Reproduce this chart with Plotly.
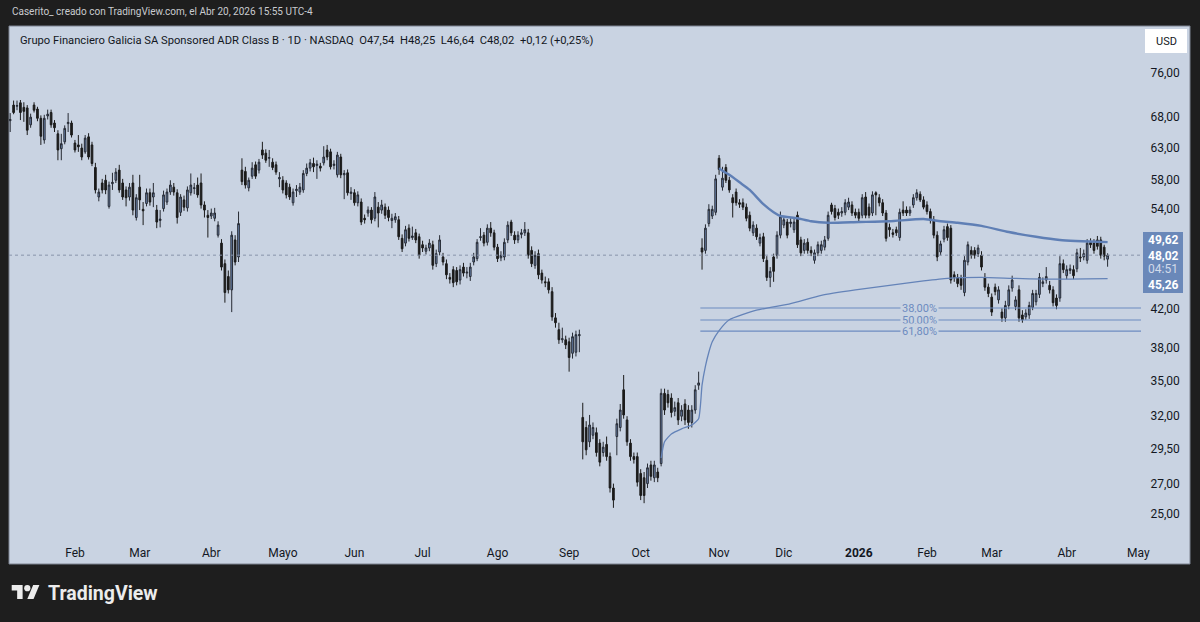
import numpy as np
import pandas as pd
import plotly.graph_objects as go

# ---------------- data ----------------
opens = [
    67.4, 70.1, 69.9, 70.5, 69.7, 69.6, 66.7, 70.1, 69.4, 67.8,
    64.2, 68.2, 68.8, 67.0, 65.2, 62.8, 63.9, 66.9, 67.0, 63.7,
    63.4, 62.9, 62.3, 64.7, 63.4, 59.9, 55.6, 57.6, 58.0, 54.3,
    57.5, 58.0, 59.5, 57.6, 56.6, 55.6, 57.6, 52.8, 57.0, 53.9,
    54.7, 56.2, 55.6, 53.8, 52.4, 54.0, 54.9, 56.3, 57.0, 56.2,
    53.5, 55.2, 54.1, 56.2, 56.8, 57.3, 57.6, 54.5, 53.1, 53.0,
    52.7, 50.5, 49.5, 47.0, 45.5, 44.0, 49.9, 47.8, 59.5, 59.3,
    56.9, 58.6, 60.3, 59.5, 62.6, 62.1, 61.3, 60.7, 60.3, 58.2,
    58.0, 57.6, 57.0, 54.8, 56.5, 56.3, 56.6, 59.0, 59.8, 60.5,
    60.2, 60.1, 60.6, 62.6, 62.3, 60.2, 58.8, 61.5, 58.8, 59.1,
    56.1, 56.2, 54.8, 54.9, 52.7, 53.4, 53.8, 52.7, 54.2, 53.8,
    54.2, 53.8, 52.4, 52.5, 52.5, 50.1, 49.5, 51.4, 50.2, 50.8,
    50.3, 49.3, 48.5, 48.9, 49.3, 47.0, 48.4, 47.8, 47.0, 45.4,
    46.3, 46.2, 45.1, 46.6, 45.9, 45.5, 47.2, 47.6, 50.2, 50.5,
    49.6, 51.4, 50.8, 49.0, 47.7, 47.8, 49.9, 52.2, 50.5, 49.9,
    50.6, 50.8, 50.8, 48.6, 46.8, 48.2, 45.9, 44.9, 44.9, 43.8,
    41.0, 39.8, 38.8, 38.8, 38.6, 37.5, 37.6, 39.2, 31.9, 31.1,
    30.0, 30.5, 30.7, 29.9, 29.2, 29.8, 28.9, 26.7, 30.4, 31.1,
    34.2, 31.7, 29.9, 28.9, 28.9, 27.7, 27.4, 27.0, 28.3, 27.4,
    27.8, 28.4, 33.9, 33.8, 33.5, 32.4, 33.1, 32.0, 33.0, 32.5,
    31.5, 32.5, 34.6, 48.9, 48.6, 52.0, 53.0, 53.5, 61.3, 57.0,
    59.9, 58.0, 55.5, 56.3, 54.8, 54.8, 54.2, 53.1, 50.8, 51.4,
    49.5, 50.3, 47.4, 45.4, 47.8, 48.0, 50.5, 51.8, 52.2, 52.0,
    51.2, 53.1, 49.9, 48.6, 49.6, 48.6, 47.4, 48.3, 48.6, 49.0,
    50.1, 54.5, 54.0, 53.5, 53.4, 53.5, 54.2, 54.5, 53.5, 53.5,
    53.1, 55.6, 54.2, 53.4, 56.2, 55.5, 54.8, 53.4, 51.5, 50.8,
    51.2, 50.2, 53.8, 53.8, 53.4, 54.5, 55.5, 56.0, 55.2, 54.5,
    53.6, 52.5, 50.5, 48.4, 50.0, 51.6, 51.4, 45.7, 45.4, 45.3,
    43.7, 47.2, 48.6, 48.6, 48.2, 48.0, 45.4, 44.3, 43.2, 44.3,
    42.9, 41.6, 41.0, 42.3, 44.2, 42.2, 44.0, 41.3, 41.1, 41.3,
    42.1, 42.7, 43.5, 44.7, 45.1, 44.5, 44.0, 43.1, 43.1, 47.0,
    45.6, 46.2, 46.3, 46.4, 47.8, 47.8, 47.4, 49.6, 49.5, 49.9,
    49.9, 49.0, 47.54,
]
highs = [
    68.7, 70.9, 70.9, 71.0, 70.6, 70.1, 68.6, 70.6, 69.8, 68.3,
    68.4, 69.3, 69.3, 67.5, 65.8, 65.2, 66.6, 68.7, 67.4, 64.2,
    65.0, 63.6, 65.0, 65.3, 63.9, 60.6, 56.8, 58.2, 58.8, 57.8,
    59.1, 59.8, 60.3, 58.2, 57.1, 57.6, 58.8, 56.0, 58.8, 54.9,
    56.8, 56.8, 57.6, 54.5, 53.8, 56.5, 56.8, 58.0, 57.6, 56.7,
    56.0, 55.8, 57.1, 59.0, 57.6, 58.4, 59.0, 55.0, 53.8, 54.0,
    54.1, 52.3, 50.0, 47.5, 46.2, 51.0, 50.5, 53.6, 61.3, 60.0,
    58.4, 60.7, 60.8, 61.2, 63.9, 62.7, 62.6, 61.3, 60.8, 59.2,
    58.6, 58.0, 57.5, 56.8, 57.3, 57.6, 59.5, 60.5, 61.2, 61.4,
    61.0, 60.6, 63.2, 63.4, 62.8, 61.0, 62.3, 62.0, 59.5, 59.6,
    57.0, 56.7, 56.4, 55.4, 53.2, 54.3, 54.2, 56.3, 54.9, 55.2,
    54.7, 54.3, 53.3, 53.4, 53.0, 50.6, 51.7, 51.9, 51.6, 51.3,
    50.7, 49.8, 49.3, 50.0, 49.8, 48.7, 50.5, 48.3, 47.5, 45.9,
    46.7, 46.6, 46.8, 47.1, 46.6, 47.1, 48.3, 50.0, 51.4, 50.9,
    51.9, 52.2, 51.2, 49.4, 48.5, 50.1, 52.3, 52.5, 51.0, 51.0,
    51.3, 52.2, 51.3, 49.1, 48.5, 48.7, 46.3, 45.5, 45.3, 44.3,
    41.5, 40.5, 40.0, 39.2, 39.0, 39.5, 39.7, 39.8, 33.1, 31.6,
    32.1, 31.5, 31.1, 30.2, 30.0, 30.4, 29.2, 27.0, 31.8, 33.0,
    35.5, 32.0, 30.2, 29.2, 29.2, 28.0, 27.8, 28.4, 28.6, 28.6,
    28.1, 34.3, 34.3, 34.2, 33.9, 33.2, 33.5, 32.9, 33.4, 32.9,
    32.9, 34.6, 35.8, 50.1, 51.9, 54.6, 54.4, 58.8, 61.8, 60.0,
    60.4, 58.5, 56.0, 56.8, 55.3, 55.4, 54.7, 53.6, 52.3, 51.9,
    50.7, 50.8, 47.9, 46.6, 48.2, 51.0, 53.6, 53.0, 52.6, 52.7,
    52.7, 53.6, 50.3, 50.0, 50.1, 49.1, 48.7, 49.7, 49.8, 50.4,
    53.6, 54.8, 54.5, 54.0, 54.2, 55.3, 55.5, 55.0, 54.0, 54.0,
    56.0, 56.3, 54.7, 56.4, 56.4, 56.0, 55.3, 53.8, 52.0, 51.3,
    51.6, 54.0, 55.0, 54.3, 54.3, 56.0, 56.7, 56.4, 55.7, 55.0,
    54.0, 53.0, 51.0, 49.8, 51.7, 52.0, 51.8, 46.1, 45.8, 45.7,
    47.9, 49.7, 49.1, 49.0, 49.3, 48.5, 45.9, 44.7, 43.6, 44.7,
    44.4, 42.0, 42.8, 44.5, 45.6, 43.3, 44.5, 41.8, 41.9, 42.7,
    44.0, 44.0, 45.9, 45.4, 46.6, 45.0, 44.4, 43.5, 47.9, 47.5,
    46.8, 46.9, 46.8, 48.8, 48.9, 48.7, 50.0, 50.1, 50.0, 50.4,
    50.3, 49.3, 48.25,
]
lows = [
    65.5, 68.5, 69.2, 67.5, 67.2, 65.0, 66.2, 68.8, 67.3, 63.4,
    63.6, 67.6, 66.2, 65.5, 61.0, 61.0, 63.5, 65.5, 64.6, 62.2,
    62.3, 61.0, 62.0, 61.1, 60.1, 56.1, 55.0, 56.1, 56.0, 54.0,
    56.6, 57.6, 56.2, 55.2, 54.3, 55.1, 53.1, 52.4, 53.8, 51.8,
    54.3, 54.4, 54.2, 51.4, 51.5, 53.6, 54.5, 55.9, 55.8, 52.0,
    53.0, 53.7, 53.6, 55.8, 56.0, 55.5, 54.0, 52.8, 50.2, 52.6,
    52.3, 50.2, 46.2, 42.6, 43.6, 41.6, 46.8, 47.2, 57.3, 56.8,
    56.4, 58.2, 58.2, 59.0, 61.2, 60.6, 60.0, 59.5, 58.8, 57.0,
    56.1, 55.4, 55.2, 54.4, 55.6, 55.9, 56.2, 58.6, 59.3, 59.2,
    58.2, 59.3, 60.2, 61.0, 59.6, 59.6, 58.4, 58.3, 55.3, 55.8,
    55.2, 54.4, 54.3, 51.8, 52.0, 52.9, 52.0, 52.3, 51.5, 53.3,
    52.6, 52.3, 51.4, 52.1, 49.9, 48.4, 49.1, 49.7, 49.9, 49.5,
    47.6, 48.4, 48.1, 48.5, 46.3, 46.6, 48.0, 46.8, 45.2, 44.7,
    44.3, 44.5, 44.6, 45.5, 45.3, 45.0, 46.8, 47.3, 49.8, 49.1,
    49.2, 50.3, 48.6, 47.2, 47.3, 47.4, 49.5, 50.4, 49.4, 49.5,
    50.1, 50.4, 47.6, 46.6, 46.4, 45.2, 44.7, 44.3, 43.6, 40.7,
    40.0, 38.4, 38.5, 37.9, 35.8, 37.0, 37.2, 37.6, 28.7, 29.0,
    29.6, 30.2, 28.9, 28.2, 28.9, 28.6, 26.4, 25.4, 29.0, 30.8,
    31.8, 29.7, 28.6, 28.4, 26.8, 25.9, 25.7, 26.7, 27.2, 27.1,
    27.1, 28.2, 32.1, 32.7, 31.9, 32.0, 31.3, 31.6, 31.3, 31.0,
    31.1, 32.2, 34.2, 46.3, 48.2, 51.6, 52.6, 53.1, 58.8, 56.5,
    57.6, 56.2, 52.8, 54.4, 54.1, 53.8, 52.3, 51.0, 50.4, 49.9,
    49.1, 47.2, 45.0, 44.3, 44.9, 47.6, 50.1, 51.4, 50.1, 51.5,
    50.8, 48.9, 47.9, 48.2, 48.2, 47.9, 47.0, 47.9, 48.2, 48.6,
    49.8, 53.2, 52.4, 52.6, 52.9, 53.1, 53.8, 53.0, 52.7, 52.3,
    52.7, 52.7, 52.7, 53.0, 53.1, 54.3, 53.0, 49.7, 50.3, 50.2,
    50.4, 49.8, 53.0, 53.0, 53.0, 54.1, 55.1, 54.9, 53.9, 53.2,
    52.0, 50.1, 47.3, 48.0, 49.6, 49.8, 44.7, 44.9, 44.3, 44.0,
    43.3, 46.8, 47.6, 47.6, 47.8, 46.2, 43.9, 43.2, 41.2, 43.4,
    42.5, 40.6, 40.6, 41.9, 43.8, 41.8, 40.6, 40.5, 40.8, 40.9,
    41.8, 42.3, 43.1, 44.3, 44.7, 43.6, 42.2, 41.9, 42.7, 45.9,
    45.2, 45.8, 45.2, 46.0, 47.2, 47.4, 47.0, 48.9, 48.2, 48.7,
    47.6, 47.4, 46.64,
]
closes = [
    67.6, 68.8, 70.0, 68.8, 69.0, 65.8, 68.0, 69.2, 67.8, 64.8,
    67.8, 68.5, 66.7, 66.2, 62.6, 63.6, 66.1, 67.1, 65.0, 62.6,
    63.1, 61.5, 64.5, 61.5, 60.5, 56.6, 56.3, 56.6, 56.6, 57.3,
    57.7, 59.2, 56.6, 55.6, 55.5, 57.0, 53.8, 55.5, 55.2, 53.7,
    56.2, 54.9, 56.2, 52.2, 52.6, 55.9, 56.3, 57.3, 56.3, 52.8,
    55.6, 54.2, 56.6, 57.3, 56.9, 55.9, 54.5, 53.8, 52.8, 53.4,
    53.4, 51.8, 46.6, 43.7, 44.0, 50.5, 47.2, 52.0, 57.8, 57.3,
    58.0, 59.8, 58.6, 60.7, 61.8, 61.0, 61.4, 59.9, 59.2, 58.4,
    56.6, 55.9, 55.6, 56.3, 56.7, 57.0, 59.0, 59.8, 60.6, 60.0,
    60.4, 59.8, 61.5, 61.5, 60.0, 60.4, 61.8, 58.8, 59.0, 56.2,
    56.3, 54.8, 55.9, 52.2, 52.5, 53.8, 52.5, 55.6, 53.4, 54.5,
    53.1, 52.8, 52.7, 52.9, 50.3, 48.8, 51.2, 50.1, 50.4, 49.9,
    48.0, 48.9, 48.9, 49.5, 46.8, 48.2, 49.9, 47.2, 45.7, 45.2,
    44.8, 44.9, 46.3, 45.9, 46.0, 46.6, 47.8, 49.6, 50.3, 49.5,
    51.4, 50.8, 49.0, 47.6, 48.0, 49.6, 51.8, 50.8, 49.9, 50.5,
    50.8, 51.2, 48.0, 47.0, 48.0, 45.7, 45.1, 44.8, 44.0, 41.1,
    40.5, 38.8, 38.9, 38.3, 37.1, 39.1, 39.3, 39.3, 30.0, 29.4,
    31.3, 31.1, 29.2, 28.5, 29.6, 28.9, 26.7, 25.9, 31.4, 32.5,
    32.1, 30.0, 28.9, 28.7, 27.1, 26.2, 26.2, 28.1, 27.5, 28.3,
    27.4, 33.9, 32.5, 33.1, 32.3, 32.7, 31.7, 32.5, 31.7, 31.5,
    32.5, 34.2, 34.8, 48.4, 51.4, 53.9, 53.9, 58.2, 59.6, 58.3,
    58.0, 56.6, 54.8, 54.8, 54.6, 54.2, 52.7, 51.4, 51.8, 50.3,
    50.2, 47.6, 45.4, 46.1, 46.1, 50.5, 52.9, 52.5, 50.5, 52.2,
    52.2, 49.3, 48.3, 49.5, 48.6, 48.3, 48.3, 49.3, 49.3, 49.9,
    53.1, 53.6, 52.8, 53.1, 53.6, 54.8, 54.9, 53.4, 53.1, 52.7,
    55.5, 53.1, 53.1, 55.9, 55.9, 54.8, 53.4, 50.1, 51.2, 50.6,
    50.8, 53.5, 53.4, 53.4, 53.8, 55.5, 56.2, 55.2, 54.2, 53.6,
    52.4, 50.5, 47.8, 49.4, 51.2, 50.2, 45.1, 45.4, 44.7, 44.5,
    47.4, 49.3, 48.0, 48.0, 48.9, 46.6, 44.3, 43.6, 41.6, 43.8,
    44.0, 41.0, 42.3, 44.0, 45.1, 42.9, 41.0, 40.8, 41.5, 42.3,
    43.6, 43.6, 45.4, 44.9, 45.5, 44.0, 42.6, 42.3, 47.0, 46.3,
    46.3, 46.4, 45.6, 48.3, 47.7, 48.2, 49.5, 49.3, 48.6, 49.1,
    48.0, 47.9, 48.02,
]
assert len(opens) == len(highs) == len(lows) == len(closes) == 323

# anchored VWAP lines (day index, value)
upper_idx = [208, 209, 211, 214, 217, 221, 224, 226, 231, 235, 240, 249,
             258, 268, 273, 278, 285, 293, 301, 308, 322]
upper_val = [59.8, 59.4, 58.8, 57.7, 56.6, 54.6, 53.5, 53.0, 52.7, 52.3, 52.1, 52.2,
             52.3, 52.6, 52.3, 52.1, 51.7, 50.9, 50.3, 49.9, 49.62]
lower_idx = [191, 192, 194, 197, 200, 202, 203, 204, 205, 206, 208, 211,
             219, 229, 238, 248, 258, 268, 275, 285, 294, 304, 322]
lower_val = [28.8, 30.0, 30.6, 31.0, 31.3, 31.8, 34.6, 36.3, 37.6, 38.6, 39.7, 40.8,
             41.8, 42.5, 43.4, 44.0, 44.5, 45.0, 45.3, 45.4, 45.3, 45.2, 45.26]

fib_levels = [42.03, 40.78, 39.66]
fib_labels = ["38,00%", "50,00%", "61,80%"]

month_labels = ["Feb", "Mar", "Abr", "Mayo", "Jun", "Jul", "Ago", "Sep", "Oct",
                "Nov", "Dic", "<b>2026</b>", "Feb", "Mar", "Abr", "May"]
price_ticks = [25, 27, 29.5, 32, 35, 38, 42, 54, 58, 63, 68, 76]

holidays = ["2025-01-09", "2025-01-20", "2025-02-17", "2025-04-18", "2025-05-26",
            "2025-06-19", "2025-07-04", "2025-09-01", "2025-11-27", "2025-12-25",
            "2026-01-01", "2026-01-19", "2026-02-16", "2026-04-03"]

# ---------------- layout constants ----------------
W, H = 1200, 622
PL, PR, PT, PB = 9, 1141, 26, 537
BG = "#1e1e1e"
PANEL = "#c9d3e2"
TXT = "#131722"
BLUE = "#6a88b9"


def fx(p):
    return (p - PL) / (PR - PL)


def fy(p):
    return (PB - p) / (PB - PT)


trade_days = pd.bdate_range("2025-01-03", "2026-05-01", freq="C", holidays=holidays)
pos = pd.Series(np.arange(len(trade_days)), index=trade_days)
firsts = pos.groupby([trade_days.year, trade_days.month]).first()
tick_pos = list(firsts.values[1:])

n = len(closes)
xs = np.arange(n)
X0, X1 = -0.35, 331.8
FIB_START = 202.5

fig = go.Figure()

# last price dotted line
fig.add_trace(go.Scatter(x=[X0, X1], y=[closes[-1], closes[-1]], mode="lines",
                         line=dict(color="#8794aa", width=1, dash="dot"),
                         hoverinfo="skip"))

for lvl in fib_levels:
    fig.add_trace(go.Scatter(x=[FIB_START, X1], y=[lvl, lvl], mode="lines",
                             line=dict(color="#6d8bc0", width=1.2), hoverinfo="skip"))

fig.add_trace(go.Scatter(x=lower_idx, y=lower_val, mode="lines",
                         line=dict(color="#6483b8", width=1.3, shape="spline", smoothing=0.5),
                         hoverinfo="skip"))
fig.add_trace(go.Scatter(x=upper_idx, y=upper_val, mode="lines",
                         line=dict(color="#5f7fb5", width=2.4, shape="spline", smoothing=0.6),
                         hoverinfo="skip"))

fig.add_trace(go.Candlestick(
    x=xs, open=opens, high=highs, low=lows, close=closes,
    increasing=dict(line=dict(color="#262a33", width=1), fillcolor="#6c87b3"),
    decreasing=dict(line=dict(color="#1b1b1b", width=1), fillcolor="#1b1b1b"),
    whiskerwidth=0, hoverinfo="skip"))

shapes = [
    dict(type="rect", xref="paper", yref="paper", x0=fx(9), x1=fx(1190), y0=fy(26), y1=fy(564),
         fillcolor=PANEL, line=dict(color="#7c8391", width=1), layer="below"),
    dict(type="rect", xref="paper", yref="paper", x0=fx(1145), x1=fx(1187), y0=fy(29), y1=fy(53),
         fillcolor="#ffffff", line=dict(width=0)),
    dict(type="rect", xref="paper", yref="paper", x0=fx(1143), x1=fx(1183), y0=fy(232), y1=fy(293),
         fillcolor=BLUE, line=dict(width=0)),
]

# TradingView logo
S, OX, OY = 0.78, 11.7, 581.9


def lp(u, v):
    return f"{fx(OX + u * S):.5f},{fy(OY + v * S):.5f}"


tpath = "M" + " L".join(lp(u, v) for u, v in [(0, 4), (14, 4), (14, 22), (7, 22), (7, 11), (0, 11)]) + " Z"
ppath = "M" + " L".join(lp(u, v) for u, v in [(28, 22), (20, 22), (27.5, 4), (35.5, 4)]) + " Z"
shapes.append(dict(type="path", xref="paper", yref="paper", path=tpath,
                   fillcolor="#ececec", line=dict(width=0)))
shapes.append(dict(type="path", xref="paper", yref="paper", path=ppath,
                   fillcolor="#ececec", line=dict(width=0)))
shapes.append(dict(type="circle", xref="paper", yref="paper",
                   x0=fx(OX + 16 * S), x1=fx(OX + 24 * S), y0=fy(OY + 4 * S), y1=fy(OY + 12 * S),
                   fillcolor="#ececec", line=dict(width=0)))


def fmt(v):
    return f"{v:.2f}".replace(".", ",")


chg = closes[-1] - closes[-2]
legend_txt = (f"Grupo Financiero Galicia SA Sponsored ADR Class B · 1D · NASDAQ  "
              f"O{fmt(opens[-1])}  H{fmt(highs[-1])}  L{fmt(lows[-1])}  C{fmt(closes[-1])}  "
              f"{'+' if chg >= 0 else ''}{fmt(chg)} ({'+' if chg >= 0 else ''}{fmt(chg / closes[-2] * 100)}%)")

ann = [
    dict(text="Caserito_ creado con TradingView.com, el Abr 20, 2026 15:55 UTC-4",
         x=fx(10), y=fy(12), xanchor="left", yanchor="middle",
         font=dict(family="Roboto", size=10, color="#c9cbcf")),
    dict(text=legend_txt, x=fx(18), y=fy(40), xanchor="left", yanchor="middle",
         font=dict(family="Roboto", size=11.2, color=TXT)),
    dict(text="USD", x=fx(1166), y=fy(41), xanchor="center", yanchor="middle",
         font=dict(family="Roboto", size=11, color=TXT)),
    dict(text=f"<b>{fmt(upper_val[-1])}</b>", x=fx(1163), y=fy(240), xanchor="center", yanchor="middle",
         font=dict(family="Roboto", size=12, color="#ffffff")),
    dict(text=f"<b>{fmt(closes[-1])}</b>", x=fx(1163), y=fy(256), xanchor="center", yanchor="middle",
         font=dict(family="Roboto", size=12, color="#ffffff")),
    dict(text="04:51", x=fx(1163), y=fy(269), xanchor="center", yanchor="middle",
         font=dict(family="Roboto", size=12, color="#d3dbea")),
    dict(text=f"<b>{fmt(lower_val[-1])}</b>", x=fx(1163), y=fy(285), xanchor="center", yanchor="middle",
         font=dict(family="Roboto", size=12, color="#ffffff")),
    dict(text="<b>TradingView</b>", x=fx(46), y=fy(593), xanchor="left", yanchor="middle",
         font=dict(family="Roboto", size=19.5, color="#ececec")),
]
for a in ann:
    a.update(xref="paper", yref="paper", showarrow=False)

for lvl, lab in zip(fib_levels, fib_labels):
    ann.append(dict(text=lab, x=272.4, y=np.log10(lvl), xref="x", yref="y",
                    xanchor="right", yanchor="middle", showarrow=False,
                    bgcolor=PANEL, borderpad=1,
                    font=dict(family="Roboto", size=11, color="#6d8bc0")))

fig.update_layout(
    width=W, height=H, autosize=False,
    margin=dict(l=PL, r=W - PR, t=PT, b=H - PB, pad=0),
    paper_bgcolor=BG, plot_bgcolor=PANEL,
    showlegend=False, separators=",.",
    shapes=shapes, annotations=ann,
    hovermode=False,
    xaxis=dict(range=[X0, X1], tickmode="array", tickvals=tick_pos, ticktext=month_labels,
               showgrid=False, zeroline=False, showline=False,
               ticks="outside", ticklen=5, tickcolor="rgba(0,0,0,0)",
               tickfont=dict(family="Roboto", size=12, color=TXT),
               rangeslider=dict(visible=False), fixedrange=True),
    yaxis=dict(type="log", range=[np.log10(23.60), np.log10(85.56)], side="right",
               tickmode="array", tickvals=price_ticks, tickformat=".2f",
               showgrid=False, zeroline=False, showline=False,
               ticks="outside", ticklen=6, tickcolor="rgba(0,0,0,0)",
               tickfont=dict(family="Roboto", size=12, color=TXT), fixedrange=True),
)

fig.write_html("out.html")
